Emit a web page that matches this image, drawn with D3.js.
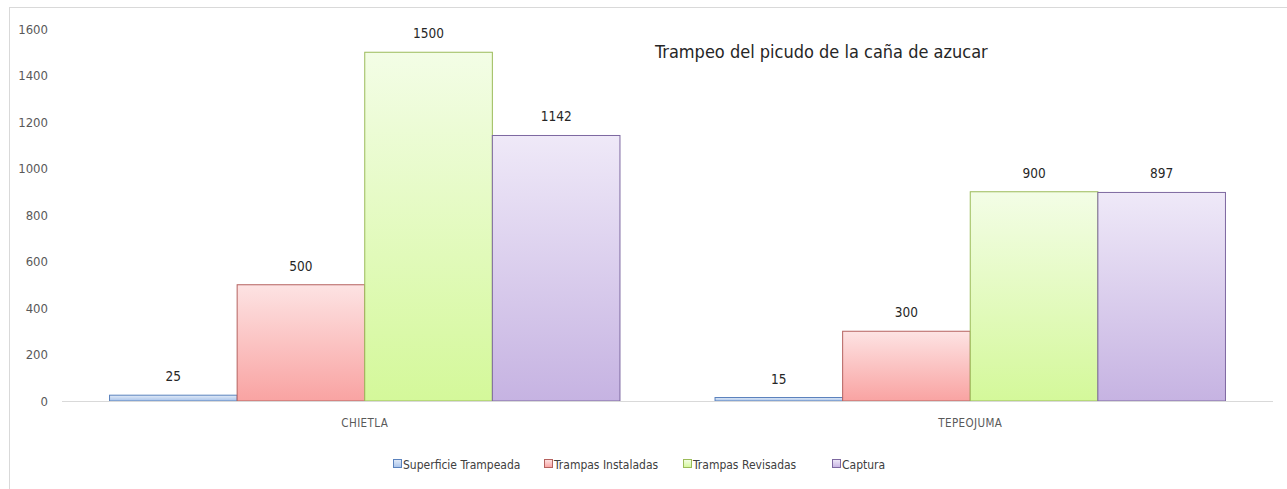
<!DOCTYPE html>
<html>
<head>
<meta charset="utf-8">
<script src="https://cdn.jsdelivr.net/npm/d3@7"></script>
<style>
  body { margin: 0; background: #fff; }
  svg { display: block; font-family: "DejaVu Sans Condensed", "DejaVu Sans", sans-serif; font-stretch: condensed; }
</style>
</head>
<body>
<div id="chart"></div>
<script>
// datos
const categories = ["CHIETLA", "TEPEOJUMA"];
const seriesNames = ["Superficie Trampeada", "Trampas Instaladas", "Trampas Revisadas", "Captura"];
const superficie = [25, 15];
const instaladas = [500, 300];
const revisadas = [1500, 900];
const captura = [1142, 897];
const yTicks = [0, 200, 400, 600, 800, 1000, 1200, 1400, 1600];

const seriesValues = [superficie, instaladas, revisadas, captura];
const colores = [
  { top: "#e2ebf8", bottom: "#a8c3ea", stroke: "#5b82bd" },
  { top: "#fde3e3", bottom: "#f9a3a2", stroke: "#b5625f" },
  { top: "#f3fde6", bottom: "#d4f89a", stroke: "#9bbb59" },
  { top: "#efe9f8", bottom: "#c6b3e2", stroke: "#7d68a0" }
];
const fuente = '"DejaVu Sans Condensed", "DejaVu Sans", sans-serif';

const width = 1287, height = 489;
const margin = { top: 29, right: 14, bottom: 88, left: 62 };
const innerWidth = width - margin.left - margin.right;
const innerHeight = height - margin.top - margin.bottom;

const svg = d3.select('#chart').append('svg')
  .attr('width', width)
  .attr('height', height);

// borde exterior (la imagen original esta recortada a la derecha y abajo)
svg.append('rect')
  .attr('x', 9.5).attr('y', 7.5)
  .attr('width', width).attr('height', height)
  .attr('fill', '#fff')
  .attr('stroke', '#d9d9d9');

const defs = svg.append('defs');
colores.forEach((c, i) => {
  const grad = defs.append('linearGradient')
    .attr('id', 'grad' + i)
    .attr('x1', 0).attr('y1', 0).attr('x2', 0).attr('y2', 1);
  grad.append('stop').attr('offset', '0%').attr('stop-color', c.top);
  grad.append('stop').attr('offset', '100%').attr('stop-color', c.bottom);
});

const x0 = d3.scaleBand()
  .domain(categories)
  .range([0, innerWidth])
  .paddingInner(0.157)
  .paddingOuter(0.0785);

const x1 = d3.scaleBand()
  .domain(seriesNames)
  .range([0, x0.bandwidth()])
  .padding(0);

const y = d3.scaleLinear()
  .domain([0, 1600])
  .range([innerHeight, 0]);

// eje y (solo etiquetas), alineadas a la derecha en x=48
const yAxisG = svg.append('g')
  .attr('transform', `translate(16,${margin.top})`)
  .call(d3.axisRight(y).tickValues(yTicks).tickFormat(d3.format('d')).tickSize(0).tickPadding(0))
  .attr('font-family', fuente)
  .attr('font-size', 13);
yAxisG.select('.domain').remove();
yAxisG.selectAll('text')
  .attr('x', 32)
  .attr('text-anchor', 'end')
  .attr('fill', '#595959');

const g = svg.append('g')
  .attr('transform', `translate(${margin.left},${margin.top})`);

// barras
const rows = categories.map((c, ci) => ({
  cat: c,
  values: seriesNames.map((s, si) => ({ serie: s, si, value: seriesValues[si][ci] }))
}));

const grupos = g.selectAll('.grupo').data(rows)
  .enter().append('g')
  .attr('class', 'grupo')
  .attr('transform', d => `translate(${x0(d.cat)},0)`);

grupos.selectAll('rect').data(d => d.values)
  .enter().append('rect')
  .attr('x', d => x1(d.serie))
  .attr('y', d => y(d.value))
  .attr('width', x1.bandwidth())
  .attr('height', d => innerHeight - y(d.value))
  .attr('fill', d => `url(#grad${d.si})`)
  .attr('stroke', d => colores[d.si].stroke)
  .attr('stroke-width', 1);

grupos.selectAll('.valor').data(d => d.values)
  .enter().append('text')
  .attr('class', 'valor')
  .attr('x', d => x1(d.serie) + x1.bandwidth() / 2)
  .attr('y', d => y(d.value) - 14)
  .attr('text-anchor', 'middle')
  .attr('fill', '#262626')
  .style('font-size', '13.5px')
  .text(d => d.value);

// eje x
const xAxisG = g.append('g')
  .attr('transform', `translate(0,${innerHeight})`)
  .call(d3.axisBottom(x0).tickSize(0).tickPadding(18))
  .attr('font-family', fuente)
  .attr('font-size', 11.5);
xAxisG.select('.domain')
  .attr('stroke', '#d9d9d9')
  .attr('d', `M0,0.5H${innerWidth}`);
xAxisG.selectAll('text')
  .attr('fill', '#595959')
  .style('letter-spacing', '0.4px');

// titulo
svg.append('text')
  .attr('x', 655)
  .attr('y', 58)
  .attr('fill', '#262626')
  .style('font-size', '18px')
  .text('Trampeo del picudo de la caña de azucar');

// leyenda
const legendX = [393, 544, 683, 832];
const legend = svg.append('g')
  .attr('transform', `translate(0,469)`);
const items = legend.selectAll('.item').data(seriesNames)
  .enter().append('g')
  .attr('class', 'item')
  .attr('transform', (d, i) => `translate(${legendX[i]},0)`);
items.append('rect')
  .attr('x', 0.5).attr('y', -9.5)
  .attr('width', 8).attr('height', 8)
  .attr('fill', (d, i) => `url(#grad${i})`)
  .attr('stroke', (d, i) => colores[i].stroke);
items.append('text')
  .attr('x', 10)
  .attr('y', 0)
  .attr('fill', '#404040')
  .style('font-size', '12px')
  .text(d => d);
</script>
</body>
</html>
